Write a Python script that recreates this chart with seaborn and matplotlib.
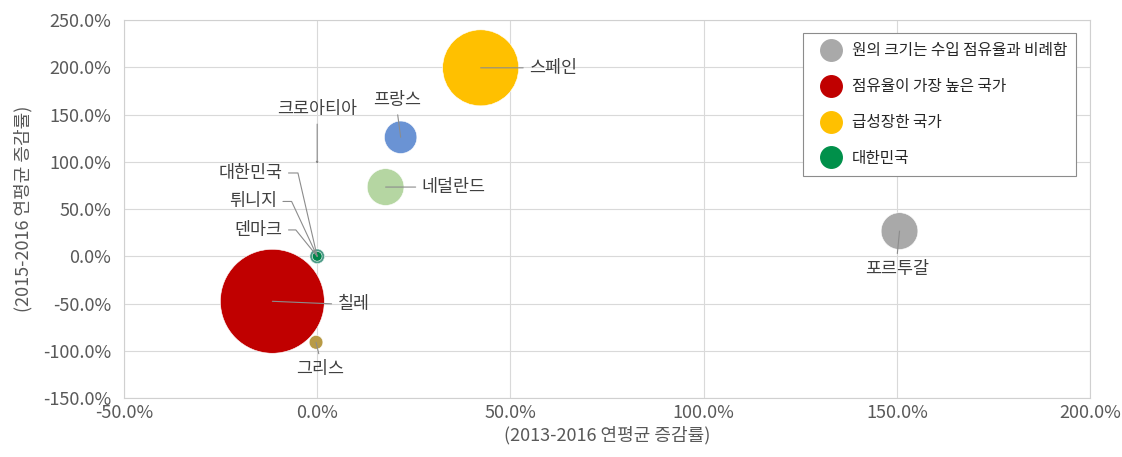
import pandas as pd
import matplotlib.pyplot as plt
import seaborn as sns
from matplotlib.lines import Line2D
from matplotlib.ticker import FuncFormatter, MultipleLocator

# ==============================
# Data
# ==============================
countries = ["칠레", "스페인", "포르투갈", "네덜란드", "프랑스", "그리스",
             "덴마크", "튀니지", "대한민국", "크로아티아"]
growth_1316 = [-11.6, 42.3, 150.7, 17.7, 21.6, -0.3, 0.0, 0.0, 0.0, 0.0]   # x, %
growth_1516 = [-47.6, 199.5, 26.7, 73.3, 126.0, -91.0, 0.0, 0.0, 0.0, 100.0]  # y, %
share = [40.0, 21.4, 5.0, 5.0, 3.9, 0.7, 0.8, 0.8, 0.35, 0.03]  # import share, %

legend_labels = ["원의 크기는 수입 점유율과 비례함", "점유율이 가장 높은 국가",
                 "급성장한 국가", "대한민국"]

colors = {
    "칠레": "#C00000", "스페인": "#FFC000", "포르투갈": "#A9A9A9",
    "네덜란드": "#B5D6A2", "프랑스": "#6A93D4", "그리스": "#B89A45",
    "덴마크": "#4B9A86", "튀니지": "#4B9A86", "대한민국": "#00844A",
    "크로아티아": "#707070",
}
legend_colors = ["#A9A9A9", "#C00000", "#FFC000", "#00904A"]

df = pd.DataFrame({"country": countries, "x": growth_1316,
                   "y": growth_1516, "share": share})

# ==============================
# Style
# ==============================
sns.set_theme(style="whitegrid")
plt.rcParams["font.family"] = ["Noto Sans CJK KR", "DejaVu Sans"]
plt.rcParams["axes.unicode_minus"] = False

fig = plt.figure(figsize=(11.22, 4.57), dpi=100)
ax = fig.add_axes([0.1105, 0.129, 0.861, 0.827])

sns.scatterplot(data=df, x="x", y="y", hue="country", palette=colors,
                size="share", sizes=(0, 5600), size_norm=(0, 40),
                edgecolor="white", linewidth=0.4, alpha=1,
                legend=False, ax=ax, zorder=3)

# ==============================
# Labels with leader lines
# ==============================
line_kw = dict(arrowstyle="-", color="#8C8C8C", lw=0.8, shrinkA=2, shrinkB=0)
txt_kw = dict(textcoords="offset points", fontsize=12.5, color="#404040", zorder=5)

def label(name, dx, dy, ha="left", va="center", relpos=(0, 0.5), conn="arc3"):
    i = countries.index(name)
    ax.annotate(name, xy=(growth_1316[i], growth_1516[i]), xytext=(dx, dy),
                ha=ha, va=va,
                arrowprops=dict(relpos=relpos, connectionstyle=conn, **line_kw),
                **txt_kw)

label("스페인", 35, 0)
label("네덜란드", 26, 0)
label("칠레", 47, -2)
label("프랑스", -2.7, 27, ha="center", relpos=(0.5, 0))
label("포르투갈", -2, -27, ha="center", relpos=(0.5, 1))
label("그리스", 3, -19, ha="center", relpos=(0.5, 1))
label("크로아티아", 0, 38, ha="center", relpos=(0.5, 0))
label("대한민국", -25, 60, ha="right", relpos=(1, 0.5),
      conn="angle,angleA=0,angleB=103,rad=0")
label("튀니지", -29, 39.5, ha="right", relpos=(1, 0.5),
      conn="angle,angleA=0,angleB=115,rad=0")
label("덴마크", -25, 19, ha="right", relpos=(1, 0.5),
      conn="angle,angleA=0,angleB=129,rad=0")

# ==============================
# Axes
# ==============================
ax.set_xlim(-50, 200)
ax.set_ylim(-150, 250)
ax.xaxis.set_major_locator(MultipleLocator(50))
ax.yaxis.set_major_locator(MultipleLocator(50))
pct = FuncFormatter(lambda v, p: f"{v:.1f}%")
ax.xaxis.set_major_formatter(pct)
ax.yaxis.set_major_formatter(pct)
ax.tick_params(axis="both", labelsize=13, colors="#595959", length=0)
ax.tick_params(axis="y", pad=9)
ax.tick_params(axis="x", pad=4)
ax.grid(color="#D9D9D9", lw=0.8)
for s in ax.spines.values():
    s.set_color("#D0D0D0")
    s.set_linewidth(0.8)
ax.set_xlabel("(2013-2016 연평균 증감률)", fontsize=13, color="#595959", labelpad=3)
ax.set_ylabel("(2015-2016 연평균 증감률)", fontsize=13, color="#595959")
ax.yaxis.set_label_coords(-0.095, 0.5)

handles = [Line2D([], [], marker="o", ls="", markersize=15.5,
                  markerfacecolor=c, markeredgecolor=c) for c in legend_colors]
leg = ax.legend(handles, legend_labels, loc="upper left",
                bbox_to_anchor=(0.703, 0.966), borderaxespad=0,
                frameon=True, fancybox=False,
                framealpha=1, edgecolor="#8C8C8C", fontsize=11.3,
                labelspacing=1.2, handletextpad=0.1, borderpad=0.6,
                handlelength=2.4)
leg.get_frame().set_linewidth(0.8)
for t in leg.get_texts():
    t.set_color("#262626")

fig.savefig("out.png", dpi=100)
